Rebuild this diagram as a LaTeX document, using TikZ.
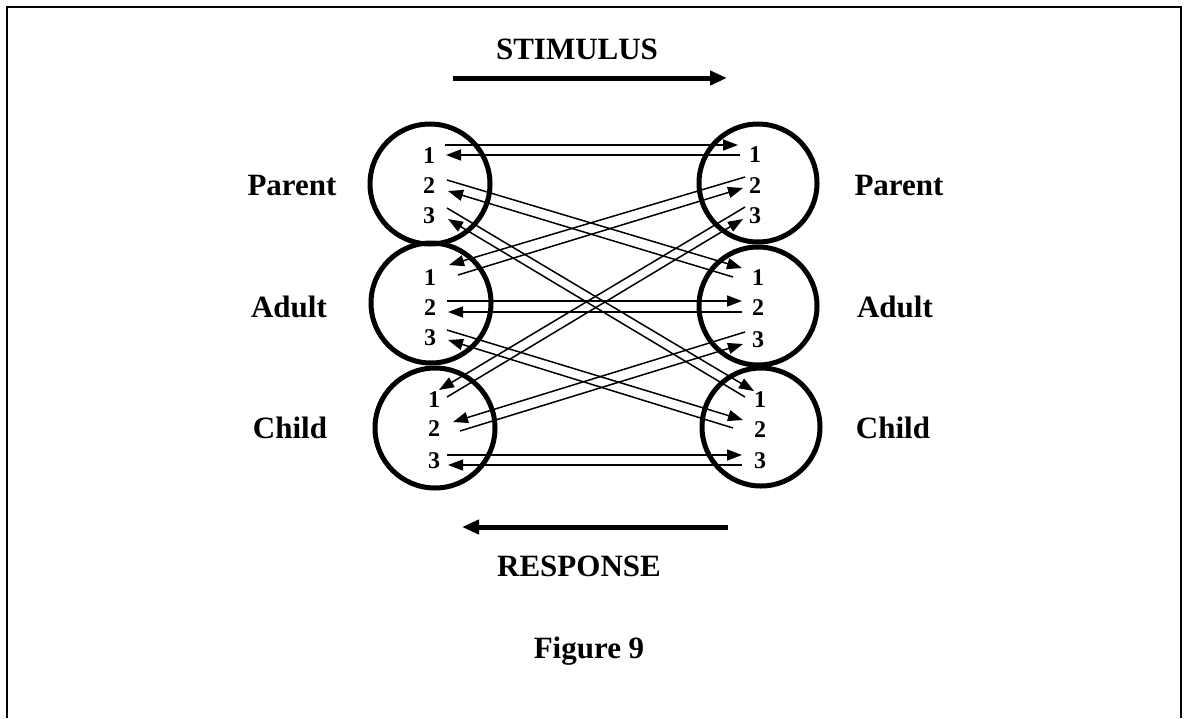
\documentclass[tikz,border=0pt]{standalone}
\usepackage{fontspec}
\setmainfont{Liberation Serif}
\usetikzlibrary{arrows.meta}
\begin{document}
\begin{tikzpicture}[x=1pt,y=-1pt,
  ring/.style={draw, line width=5pt, circle, inner sep=0pt},
  lbl/.style={font=\fontsize{31}{31}\selectfont\bfseries, anchor=base, inner sep=0pt},
  num/.style={font=\fontsize{24}{24}\selectfont\bfseries, anchor=base, inner sep=0pt},
  link/.style={line width=1.5pt, -{Triangle[length=15pt,width=11pt]}},
  bigarrow/.style={line width=5pt, -{Triangle[length=17pt,width=14pt]}},
  frame/.style={line width=1.5pt}]
\useasboundingbox (0,0) rectangle (1188,718);
% frame
\coordinate (f1) at (7,718); \coordinate (f2) at (7,7);
\coordinate (f3) at (1181,7); \coordinate (f4) at (1181,718);
\draw[frame] (f1) -- (f2) -- (f3) -- (f4);
% circles
\node[ring, minimum size=120pt] (cPL) at (430,184) {};
\node[ring, minimum size=120pt] (cAL) at (431,303) {};
\node[ring, minimum size=120pt] (cCL) at (435,428) {};
\node[ring, minimum size=118pt] (cPR) at (758,183) {};
\node[ring, minimum size=118pt] (cAR) at (758,306) {};
\node[ring, minimum size=118pt] (cCR) at (761,427) {};
% side labels
\node[lbl] (tPL) at (292,195) {Parent};
\node[lbl] (tAL) at (289,317) {Adult};
\node[lbl] (tCL) at (290,438) {Child};
\node[lbl] (tPR) at (899,195) {Parent};
\node[lbl] (tAR) at (895,317) {Adult};
\node[lbl] (tCR) at (893,438) {Child};
% numbers
\node[num] (nPL1) at (429,163) {1};
\node[num] (nPL2) at (429,193) {2};
\node[num] (nPL3) at (429,223) {3};
\node[num] (nAL1) at (430,285) {1};
\node[num] (nAL2) at (430,315) {2};
\node[num] (nAL3) at (430,345) {3};
\node[num] (nCL1) at (434,407) {1};
\node[num] (nCL2) at (434,436) {2};
\node[num] (nCL3) at (434,468) {3};
\node[num] (nPR1) at (755,162) {1};
\node[num] (nPR2) at (755,193) {2};
\node[num] (nPR3) at (755,223) {3};
\node[num] (nAR1) at (758,285) {1};
\node[num] (nAR2) at (758,315) {2};
\node[num] (nAR3) at (758,347) {3};
\node[num] (nCR1) at (760,407) {1};
\node[num] (nCR2) at (760,437) {2};
\node[num] (nCR3) at (760,468) {3};
% connector end points: S stimulus start, T stimulus tip, R response start, U response tip
\foreach \k/\sx/\sy/\tx/\ty/\rx/\ry/\ux/\uy in {
  1/445/145/738/145/740/155/446/155,
  2/447/180/742/268/733/277/448/191,
  3/447/208/754/391/745/397/448/219,
  4/458/275/743/188/745/177/449/265,
  5/447/301/742/301/742/312/448/312,
  6/447/330/743/420/733/428/448/340,
  7/447/397/743/219/745/207/439/390,
  8/460/431/743/344/745/332/453/422,
  9/447/455/742/455/742/465/448/465}{
  \coordinate (S\k) at (\sx,\sy);
  \coordinate (T\k) at (\tx,\ty);
  \coordinate (R\k) at (\rx,\ry);
  \coordinate (U\k) at (\ux,\uy);
  \draw[link] (S\k) -- (T\k);
  \draw[link] (R\k) -- (U\k);
}
% stimulus / response
\node[lbl] (stim) at (577,59) {STIMULUS};
\coordinate (stA) at (453,78); \coordinate (stB) at (727,78);
\draw[bigarrow] (stA) -- (stB);
\coordinate (rsA) at (728,527); \coordinate (rsB) at (462,527);
\draw[bigarrow] (rsA) -- (rsB);
\node[lbl] (resp) at (579,576) {RESPONSE};
\node[lbl] (fig) at (589,658) {Figure 9};
\end{tikzpicture}
\end{document}
